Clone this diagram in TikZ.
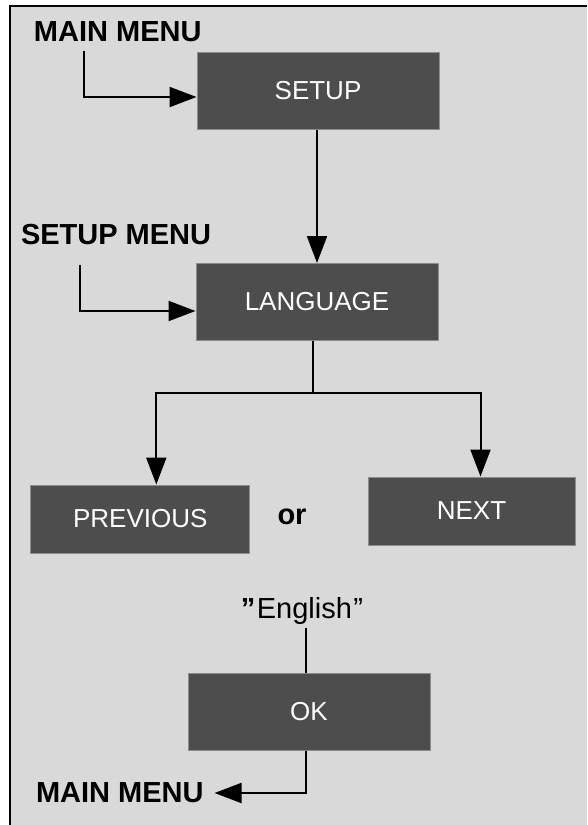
\documentclass[tikz,border=0pt]{standalone}
\usepackage{fontspec}
\setmainfont{Liberation Sans}
\usetikzlibrary{arrows.meta}
\definecolor{panelgray}{HTML}{D9D9D9}
\definecolor{boxgray}{HTML}{4D4D4D}
\definecolor{edgegray}{HTML}{8C8C8C}
\begin{document}
\begin{tikzpicture}[x=1pt, y=-1pt, >={Triangle[length=27pt,width=20pt]}, line width=2pt,
  menubox/.style={draw=edgegray, line width=1pt, fill=boxgray, text=white,
    font=\fontsize{26}{30}\selectfont, minimum width=242pt, minimum height=77pt, inner sep=0pt},
  tag/.style={font=\fontsize{29}{33}\selectfont\bfseries, inner sep=0pt}]
\useasboundingbox (0,0) rectangle (587,825);
% panel background and frame
\fill[panelgray] (9,5) rectangle (587,825);
\draw[line width=2.5pt] (10,825) -- (10,6) -- (587,6);
% menu boxes
\node[menubox] (setup) at (318,90.5) {SETUP};
\node[menubox] (language) at (317,302) {LANGUAGE};
\node[menubox, minimum width=219pt, minimum height=68pt] (previous) at (140.3,519) {PREVIOUS};
\node[menubox, minimum width=207pt, minimum height=68pt] (next) at (471.5,511) {NEXT};
\node[menubox] (ok) at (309,711.5) {OK};
% labels
\node[tag, anchor=west] (mainin) at (33,31.5) {MAIN MENU};
\node[tag, anchor=west] (setupin) at (20,235) {SETUP MENU};
\node[tag] (or) at (292,517) {or};
\node[font=\fontsize{29}{33}\selectfont, inner sep=0pt] (english) at (302,610.5)
  {{\bfseries ”}\hspace{1.5pt}English\hspace{1.5pt}”};
\node[tag, anchor=west] (mainout) at (35,793) {MAIN MENU};
% connectors
\draw[->] ([xshift=51pt, yshift=-8pt]mainin.south west) |- ([yshift=-6.5pt]setup.west);
\draw[->] (language.north |- setup.south) -- (language.north);
\draw[->] ([xshift=60pt, yshift=-19pt]setupin.south west) |- ([yshift=-9pt]language.west);
\coordinate (fork) at (313,393);
\draw (language.south -| fork) -- (fork);
\draw[->] (fork) -| ([xshift=16pt]previous.north);
\draw[->] (fork) -| ([xshift=9pt]next.north);
\draw ([xshift=3.5pt, yshift=-3pt]english.south) -- ([xshift=3.5pt]english.south |- ok.north);
\draw[->] ([xshift=3.5pt]english.south |- ok.south) |- ([xshift=10pt]mainout.east);
\end{tikzpicture}
\end{document}
